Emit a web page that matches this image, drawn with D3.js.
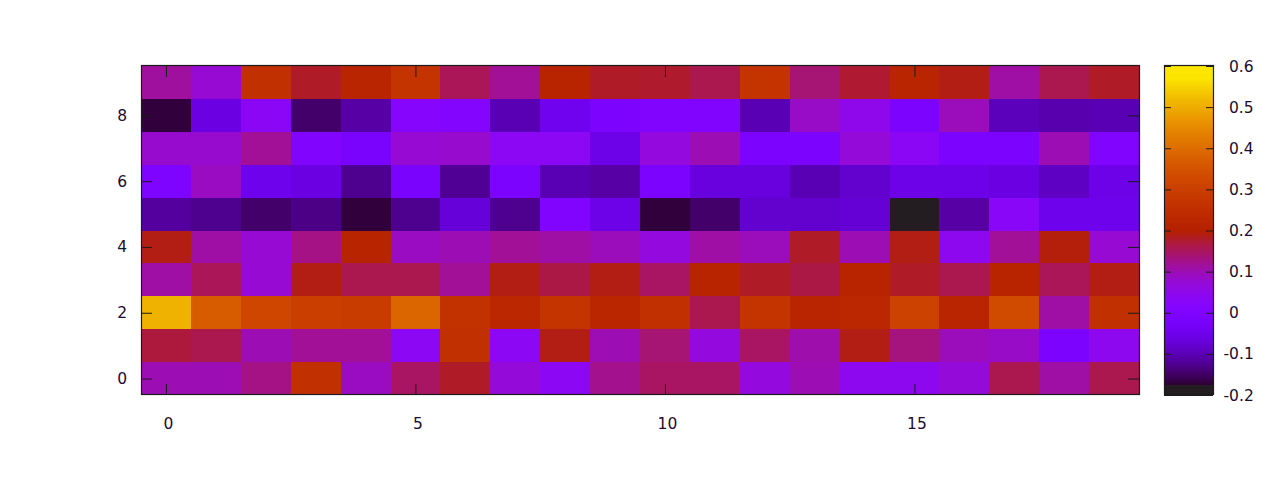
<!DOCTYPE html>
<html>
<head>
<meta charset="utf-8">
<script src="https://cdn.jsdelivr.net/npm/d3@7"></script>
<style>
  html, body { margin: 0; padding: 0; background: #fff; }
  svg { display: block; }
  text { font-family: "DejaVu Sans", "Liberation Sans", sans-serif; font-size: 15.5px; fill: #240b2c; }
</style>
</head>
<body>
<svg id="chart" width="1280" height="480"></svg>
<script>
// ---- data ----
const xCategories = [0,1,2,3,4,5,6,7,8,9,10,11,12,13,14,15,16,17,18,19];
const yCategories = [0,1,2,3,4,5,6,7,8,9];
const row0 = [0.10, 0.10, 0.13, 0.26, 0.09, 0.15, 0.18, 0.07, 0.04, 0.125, 0.15, 0.15, 0.065, 0.10, 0.045, 0.045, 0.07, 0.16, 0.11, 0.16];
const row1 = [0.17, 0.16, 0.10, 0.12, 0.12, 0.04, 0.26, 0.04, 0.19, 0.10, 0.14, 0.065, 0.15, 0.105, 0.19, 0.135, 0.095, 0.085, -0.01, 0.045];
const row2 = [0.51, 0.37, 0.32, 0.30, 0.295, 0.39, 0.265, 0.23, 0.27, 0.225, 0.26, 0.16, 0.27, 0.22, 0.23, 0.31, 0.22, 0.33, 0.11, 0.26];
const row3 = [0.11, 0.155, 0.075, 0.19, 0.16, 0.16, 0.12, 0.19, 0.165, 0.19, 0.15, 0.215, 0.18, 0.165, 0.215, 0.18, 0.16, 0.215, 0.155, 0.19];
const row4 = [0.19, 0.11, 0.075, 0.13, 0.215, 0.09, 0.10, 0.12, 0.11, 0.095, 0.065, 0.11, 0.095, 0.18, 0.10, 0.19, 0.045, 0.12, 0.195, 0.075];
const row5 = [-0.115, -0.125, -0.145, -0.13, -0.17, -0.125, -0.07, -0.125, 0.0, -0.055, -0.17, -0.145, -0.08, -0.08, -0.075, -0.2, -0.11, 0.03, -0.05, -0.05];
const row6 = [-0.005, 0.09, -0.05, -0.06, -0.125, -0.02, -0.12, -0.01, -0.10, -0.11, -0.01, -0.065, -0.065, -0.10, -0.08, -0.055, -0.055, -0.06, -0.09, -0.055];
const row7 = [0.08, 0.08, 0.12, 0.005, -0.02, 0.075, 0.08, 0.04, 0.04, -0.055, 0.065, 0.10, -0.01, -0.01, 0.07, 0.035, -0.01, -0.01, 0.10, 0.0];
const row8 = [-0.17, -0.06, 0.035, -0.145, -0.11, 0.02, 0.015, -0.10, -0.045, -0.01, 0.0, 0.0, -0.10, 0.085, 0.05, -0.01, 0.095, -0.095, -0.105, -0.10];
const row9 = [0.115, 0.075, 0.26, 0.18, 0.22, 0.27, 0.155, 0.12, 0.215, 0.18, 0.178, 0.16, 0.27, 0.14, 0.175, 0.22, 0.19, 0.11, 0.16, 0.18];
const xTickValues = [0, 5, 10, 15];
const yTickValues = [0, 2, 4, 6, 8];
const cbTickValues = [-0.2, -0.1, 0, 0.1, 0.2, 0.3, 0.4, 0.5, 0.6];
const cbDomain = [-0.2, 0.6];

const rows = [row0, row1, row2, row3, row4, row5, row6, row7, row8, row9];

// ---- palette (gnuplot rgbformulae 7,5,15) ----
function palette(v) {
  const t = Math.max(0, Math.min(1, (v - cbDomain[0]) / (cbDomain[1] - cbDomain[0])));
  if (t < 0.03) return "rgb(35,28,32)";
  const r = Math.sqrt(t), g = t * t * t, b = Math.max(0, Math.sin(2 * Math.PI * t));
  return `rgb(${Math.round(r*255)},${Math.round(Math.min(g, 0.9)*255)},${Math.round(b*255)})`;
}

// ---- layout ----
const svg = d3.select("#chart");
const L = 141, R = 1139, T = 66, B = 395;
const x = d3.scaleLinear().domain([-0.5, xCategories.length - 0.5]).range([L, R]);
const y = d3.scaleLinear().domain([-0.5, yCategories.length - 0.5]).range([B, T]);
const borderColor = "#1c1c1c";

// cells
const cells = [];
rows.forEach((row, j) => row.forEach((v, i) => cells.push({i: xCategories[i], j: yCategories[j], v})));
svg.append("g").attr("shape-rendering", "crispEdges")
  .selectAll("rect").data(cells).join("rect")
  .attr("x", d => x(d.i - 0.5))
  .attr("y", d => y(d.j + 0.5))
  .attr("width", d => x(d.i + 0.5) - x(d.i - 0.5))
  .attr("height", d => y(d.j - 0.5) - y(d.j + 0.5))
  .attr("fill", d => palette(d.v));

// axes (ticks inward, mirrored)
const tickLen = 11;
function styleAxis(g) {
  g.select(".domain").remove();
  g.selectAll("line").attr("stroke", borderColor);
  g.selectAll("text").attr("fill", null);
  g.attr("font-family", null).attr("font-size", null);
}
svg.append("g").attr("transform", `translate(0,${B})`)
  .call(d3.axisBottom(x).tickValues(xTickValues).tickFormat(d3.format("d")).tickSizeInner(-tickLen).tickSizeOuter(0).tickPadding(23))
  .call(styleAxis)
  .selectAll("text").attr("dx", 2);
svg.append("g").attr("transform", `translate(0,${T})`)
  .call(d3.axisTop(x).tickValues(xTickValues).tickFormat("").tickSizeInner(-tickLen).tickSizeOuter(0))
  .call(styleAxis);
svg.append("g").attr("transform", `translate(${L},0)`)
  .call(d3.axisLeft(y).tickValues(yTickValues).tickFormat(d3.format("d")).tickSizeInner(-tickLen).tickSizeOuter(0).tickPadding(14))
  .call(styleAxis);
svg.append("g").attr("transform", `translate(${R},0)`)
  .call(d3.axisRight(y).tickValues(yTickValues).tickFormat("").tickSizeInner(-tickLen).tickSizeOuter(0))
  .call(styleAxis);

svg.append("rect").attr("x", L + 0.5).attr("y", T - 0.5).attr("width", R - L).attr("height", B - T)
  .attr("fill", "none").attr("stroke", borderColor).attr("stroke-width", 1.2);

// colorbar
const CL = 1164, CR = 1213;
const cy = d3.scaleLinear().domain(cbDomain).range([B, T]);
const nSteps = 160;
const steps = d3.range(nSteps).map(k => cbDomain[0] + (k + 0.5) * (cbDomain[1] - cbDomain[0]) / nSteps);
const stepH = (B - T) / nSteps;
svg.append("g").attr("shape-rendering", "crispEdges")
  .selectAll("rect").data(steps).join("rect")
  .attr("x", CL).attr("width", CR - CL)
  .attr("y", d => cy(d) - stepH / 2 - 0.5)
  .attr("height", stepH + 1)
  .attr("fill", d => palette(d));

const cbTick = 7;
svg.append("g").attr("transform", `translate(${CL},0)`)
  .call(d3.axisLeft(cy).tickValues(cbTickValues).tickFormat("").tickSizeInner(-cbTick).tickSizeOuter(0))
  .call(styleAxis);
svg.append("g").attr("transform", `translate(${CR},0)`)
  .call(d3.axisRight(cy).tickValues(cbTickValues).tickFormat("").tickSizeInner(-cbTick).tickSizeOuter(0))
  .call(styleAxis);
svg.append("rect").attr("x", CL + 0.5).attr("y", T - 0.5).attr("width", CR - CL).attr("height", B - T)
  .attr("fill", "none").attr("stroke", borderColor).attr("stroke-width", 1.2);

svg.append("g").selectAll("text").data(cbTickValues).join("text")
  .attr("x", d => d < 0 ? 1223.5 : 1229)
  .attr("y", d => cy(d))
  .attr("dy", "0.36em")
  .attr("text-anchor", "start")
  .text(d => d === 0 ? "0" : d3.format(".1f")(d).replace("−", "-"));
</script>
</body>
</html>
